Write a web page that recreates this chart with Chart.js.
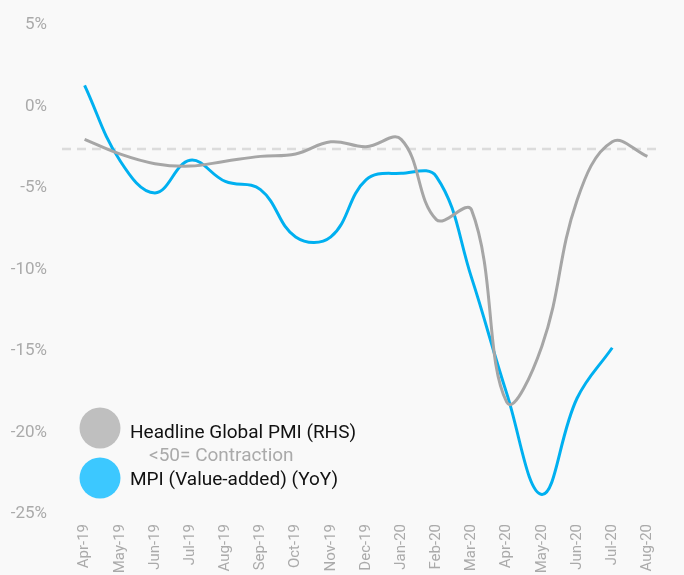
<!DOCTYPE html>
<html>
<head>
<meta charset="utf-8">
<script src="https://cdn.jsdelivr.net/npm/chart.js@4"></script>
<style>
  body { margin: 0; background: #f9f9f9; }
  #wrap { width: 684px; height: 575px; }
</style>
</head>
<body>
<div id="wrap"><canvas id="myChart"></canvas></div>
<script>
//data block
const months = ['Apr-19', 'May-19', 'Jun-19', 'Jul-19', 'Aug-19', 'Sep-19', 'Oct-19', 'Nov-19',
  'Dec-19', 'Jan-20', 'Feb-20', 'Mar-20', 'Apr-20', 'May-20', 'Jun-20', 'Jul-20', 'Aug-20'];
const mpiYoY = [1.3, -3.3, -5.3, -3.3, -4.6, -5.1, -8.0, -8.0, -4.5, -4.1, -4.3, -10.5, -17.6, -23.8, -17.9, -14.8, null];
const globalPmi = [50.4, 49.8, 49.4, 49.3, 49.5, 49.7, 49.8, 50.3, 50.1, 50.4, 47.1, 47.5, 39.6, 41.9, 47.9, 50.3, 49.7];
const yTicks = [5, 0, -5, -10, -15, -20, -25];
const pmiThreshold = 50;

const FONT = 'Roboto, "Open Sans", sans-serif';

//dashed 50 line + legend
const extras = {
  id: 'extras',
  beforeDatasetsDraw(chart) {
    const ctx = chart.ctx;
    const area = chart.chartArea;
    const y = chart.scales.y1.getPixelForValue(pmiThreshold);
    ctx.save();
    ctx.strokeStyle = '#dcdcdc';
    ctx.lineWidth = 2.5;
    ctx.setLineDash([9, 6]);
    ctx.beginPath();
    ctx.moveTo(area.left - 5, y);
    ctx.lineTo(area.right - 3, y);
    ctx.stroke();
    ctx.restore();
  },
  afterDraw(chart) {
    const ctx = chart.ctx;
    const area = chart.chartArea;
    const cx = area.left + 33;
    ctx.save();
    ctx.fillStyle = '#bfbfbf';
    ctx.beginPath();
    ctx.arc(cx, area.bottom - 86, 20.5, 0, Math.PI * 2);
    ctx.fill();
    ctx.fillStyle = '#3cc8ff';
    ctx.beginPath();
    ctx.arc(cx, area.bottom - 36, 20.5, 0, Math.PI * 2);
    ctx.fill();
    ctx.font = '19px ' + FONT;
    ctx.textBaseline = 'middle';
    ctx.fillStyle = '#111';
    ctx.fillText('Headline Global PMI (RHS)', cx + 30, area.bottom - 81);
    ctx.fillText('MPI (Value-added) (YoY)', cx + 30, area.bottom - 34);
    ctx.fillStyle = '#aaaaaa';
    ctx.fillText('<50= Contraction', cx + 49, area.bottom - 58);
    ctx.restore();
  }
};

const data = {
  labels: months,
  datasets: [{
    label: 'Headline Global PMI (RHS)',
    data: globalPmi,
    yAxisID: 'y1',
    borderColor: '#a6a6a6',
    borderWidth: 3,
    pointRadius: 0,
    tension: 0.4
  }, {
    label: 'MPI (Value-added) (YoY)',
    data: mpiYoY,
    yAxisID: 'y',
    borderColor: '#00b0f0',
    borderWidth: 3,
    pointRadius: 0,
    tension: 0.4
  }]
};

const config = {
  type: 'line',
  data,
  options: {
    responsive: true,
    maintainAspectRatio: false,
    animation: false,
    layout: { padding: { top: 25, right: 19, bottom: 0, left: 0 } },
    plugins: {
      legend: { display: false },
      tooltip: { enabled: false }
    },
    scales: {
      x: {
        offset: true,
        afterFit(scale) { scale.height = 61; },
        grid: { display: false, drawTicks: false },
        border: { display: false },
        ticks: {
          color: '#aaaaaa',
          font: { family: FONT, size: 15 },
          minRotation: 90,
          maxRotation: 90,
          autoSkip: false,
          padding: 10
        }
      },
      y: {
        min: -25,
        max: 5,
        afterFit(scale) {
          scale.width = 67;
          scale.paddingTop = 0;
          scale.paddingBottom = 0;
        },
        afterBuildTicks(scale) {
          scale.ticks = yTicks.map(v => ({ value: v }));
        },
        grid: { display: false, drawTicks: false },
        border: { display: false },
        ticks: {
          color: '#aaaaaa',
          font: { family: FONT, size: 17 },
          padding: 20,
          callback: v => v + '%'
        }
      },
      y1: {
        display: false,
        min: 35,
        max: 55.1
      }
    }
  },
  plugins: [extras]
};

const myChart = new Chart(document.getElementById('myChart'), config);
</script>
</body>
</html>
